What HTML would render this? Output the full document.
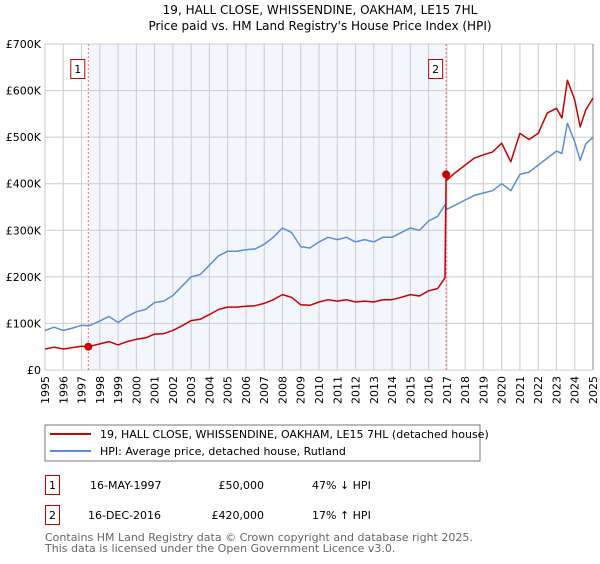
<!DOCTYPE html>
<html><head><meta charset="utf-8"><style>
body{margin:0;background:#fff;font-family:"DejaVu Sans","Liberation Sans",sans-serif}
svg text{font-family:"DejaVu Sans","Liberation Sans",sans-serif}
</style></head><body>
<svg id="c" width="600" height="560" xmlns="http://www.w3.org/2000/svg">
<text x="320" y="14" text-anchor="middle" font-size="12">19, HALL CLOSE, WHISSENDINE, OAKHAM, LE15 7HL</text>
<text x="320" y="30" text-anchor="middle" font-size="12">Price paid vs. HM Land Registry's House Price Index (HPI)</text>
<g id="plot"></g>
<rect x="45" y="425" width="435" height="36" fill="#fff" stroke="#777"/>
<line x1="50" y1="434" x2="91" y2="434" stroke="#cc0000" stroke-width="2"/>
<text x="100" y="438" font-size="11">19, HALL CLOSE, WHISSENDINE, OAKHAM, LE15 7HL (detached house)</text>
<line x1="50" y1="451" x2="91" y2="451" stroke="#5b8ed6" stroke-width="2"/>
<text x="100" y="455" font-size="11">HPI: Average price, detached house, Rutland</text>
<rect x="45.5" y="475.5" width="14" height="19" fill="none" stroke="#cc0000"/>
<text x="52.5" y="489" text-anchor="middle" font-size="11">1</text>
<text x="90" y="489" font-size="11">16-MAY-1997</text>
<text x="264" y="489" text-anchor="end" font-size="11">£50,000</text>
<text x="312" y="489" font-size="11">47% ↓ HPI</text>
<rect x="45.5" y="505.5" width="14" height="19" fill="none" stroke="#cc0000"/>
<text x="52.5" y="519" text-anchor="middle" font-size="11">2</text>
<text x="88" y="519" font-size="11">16-DEC-2016</text>
<text x="264" y="519" text-anchor="end" font-size="11">£420,000</text>
<text x="312" y="519" font-size="11">17% ↑ HPI</text>
<text x="45" y="541" font-size="11" fill="#666">Contains HM Land Registry data © Crown copyright and database right 2025.</text>
<text x="45" y="552" font-size="11" fill="#666">This data is licensed under the Open Government Licence v3.0.</text>
</svg>
<script>
const hpiYears=[1995,1995.5,1996,1996.5,1997,1997.4,1998,1998.5,1999,1999.5,2000,2000.5,2001,2001.5,2002,2002.5,2003,2003.5,2004,2004.5,2005,2005.5,2006,2006.5,2007,2007.5,2008,2008.5,2009,2009.5,2010,2010.5,2011,2011.5,2012,2012.5,2013,2013.5,2014,2014.5,2015,2015.5,2016,2016.5,2016.9,2017,2017.5,2018,2018.5,2019,2019.5,2020,2020.5,2021,2021.5,2022,2022.5,2023,2023.3,2023.6,2024,2024.3,2024.6,2025];
const hpiValues=[85,92,85,90,96,95,105,115,102,115,125,130,145,148,160,180,200,205,225,245,255,255,258,260,270,285,305,295,265,262,275,285,280,285,275,280,275,285,285,295,305,300,320,330,355,345,355,365,375,380,385,400,385,420,425,440,455,470,465,530,490,450,485,500];
const priceYears=[1995,1995.5,1996,1996.5,1997,1997.37,1998,1998.5,1999,1999.5,2000,2000.5,2001,2001.5,2002,2002.5,2003,2003.5,2004,2004.5,2005,2005.5,2006,2006.5,2007,2007.5,2008,2008.5,2009,2009.5,2010,2010.5,2011,2011.5,2012,2012.5,2013,2013.5,2014,2014.5,2015,2015.5,2016,2016.5,2016.9,2016.96,2017,2017.5,2018,2018.5,2019,2019.5,2020,2020.5,2021,2021.5,2022,2022.5,2023,2023.3,2023.6,2024,2024.3,2024.6,2025];
const priceValues=[45,49,45,48,51,50,56,61,54,61,66,69,77,78,85,95,106,109,119,130,135,135,137,138,143,151,162,156,140,139,146,151,148,151,146,148,146,151,151,156,162,159,170,175,198,420,408,425,440,455,462,468,487,447,508,495,508,552,562,541,622,580,522,558,584];
const sales=[{n:"1",year:1997.37,value:50},{n:"2",year:2016.96,value:420}];
const yTicks=[0,100,200,300,400,500,600,700];
const yLabels=["£0","£100K","£200K","£300K","£400K","£500K","£600K","£700K"];
const xTicks=[1995,1996,1997,1998,1999,2000,2001,2002,2003,2004,2005,2006,2007,2008,2009,2010,2011,2012,2013,2014,2015,2016,2017,2018,2019,2020,2021,2022,2023,2024,2025];

const X0=45,X1=593,Y0=370,Y1=44;
const xs=y=>X0+(y-1995)/30*(X1-X0);
const ys=v=>Y0-v/700*(Y0-Y1);
const NS="http://www.w3.org/2000/svg";
const g=document.getElementById('plot');
function mk(t,a){const e=document.createElementNS(NS,t);for(const k in a)e.setAttribute(k,a[k]);g.appendChild(e);return e;}

let e=mk('rect',{x:xs(sales[0].year),y:Y1,width:xs(sales[1].year)-xs(sales[0].year),height:Y0-Y1,fill:'#f3f6fd'});


xTicks.forEach((t,i)=>{
  let l=mk('line',{x1:xs(t),x2:xs(t),y1:Y1,y2:Y0,stroke:'#cccccc'});
  
  
  let tx=mk('text',{x:0,y:0,'font-size':11,'text-anchor':'end',transform:`translate(${xs(t)+4},${Y0+6}) rotate(-90)`});
  tx.textContent=t;
  
  
});
yTicks.forEach((t,i)=>{
  let l=mk('line',{x1:X0,x2:X1,y1:ys(t),y2:ys(t),stroke:'#cccccc'});
  
  
  let tx=mk('text',{x:X0-4,y:ys(t)+4,'font-size':11,'text-anchor':'end'});
  tx.textContent=yLabels[i];
  
  
});
e=mk('line',{x1:X1,x2:X1,y1:Y1,y2:Y0,stroke:'#888'});


sales.forEach(s=>{
  let l=mk('line',{x1:xs(s.year),x2:xs(s.year),y1:Y1,y2:Y0,stroke:'#ff6666','stroke-dasharray':'2,2'});
  
  
  let r=mk('rect',{x:xs(s.year)-17.5,y:59.5,width:14,height:19,fill:'#fff',stroke:'#cc0000'});
  
  
  let tx=mk('text',{x:xs(s.year)-10.5,y:73,'font-size':11,'text-anchor':'middle'});
  tx.textContent=s.n;
  
  
});
function path(xa,va,col,name){
  const d=xa.map((y,i)=>(i?'L':'M')+xs(y).toFixed(1)+','+ys(va[i]).toFixed(1)).join('');
  const p=mk('path',{d:d,fill:'none',stroke:col,'stroke-width':1.5,'stroke-linejoin':'round'});
  
  
}
path(hpiYears,hpiValues,'#5b8ed6','hpi-line');
path(priceYears,priceValues,'#cc0000','price-paid-line');
sales.forEach(s=>{
  const c=mk('circle',{cx:xs(s.year),cy:ys(s.value),r:4,fill:'#cc0000'});
  
  
});
</script>
</body></html>
